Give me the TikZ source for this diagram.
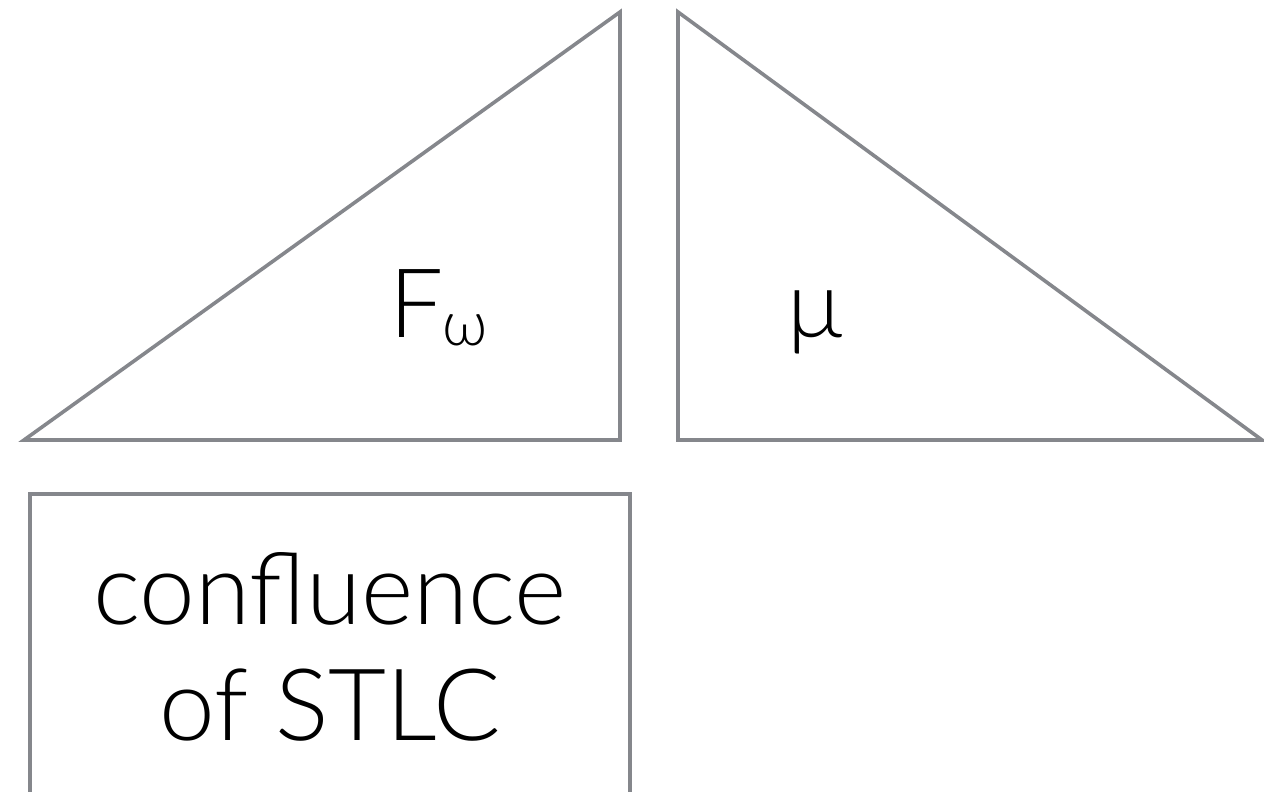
\documentclass[tikz,border=0pt]{standalone}
\usepackage{fontspec}
\setmainfont{Lato Light}
\begin{document}
\begin{tikzpicture}[x=1pt,y=-1pt,
  shape line/.style={draw=linegray,line width=3.6pt,line join=miter},
  label text/.style={font=\fontsize{100}{116}\selectfont,inner sep=0pt,anchor=base}]
\definecolor{linegray}{RGB}{133,135,140}
\useasboundingbox (0,0) rectangle (1264,792);
\coordinate (lA) at (24,440);
\coordinate (lB) at (620,12);
\coordinate (lC) at (620,440);
\coordinate (rA) at (678,12);
\coordinate (rB) at (678,440);
\coordinate (rC) at (1262,440);
\draw[shape line] (lA) -- (lB) -- (lC) -- cycle;
\draw[shape line] (rA) -- (rB) -- (rC) -- cycle;
\draw[shape line] (30,494) rectangle (630,796);
\node[label text,anchor=base west,font=\fontsize{96}{110}\selectfont] (fw) at (389,337) {F\kern-1pt\raisebox{-0.09em}{\fontsize{62}{64}\selectfont ω}};
\node[label text,font=\fontsize{94}{110}\selectfont] (mu) at (815,337) {μ};
\node[label text] (conf1) at (330,624) {confluence};
\node[label text] (conf2) at (330,740) {of STLC};
\end{tikzpicture}
\end{document}
